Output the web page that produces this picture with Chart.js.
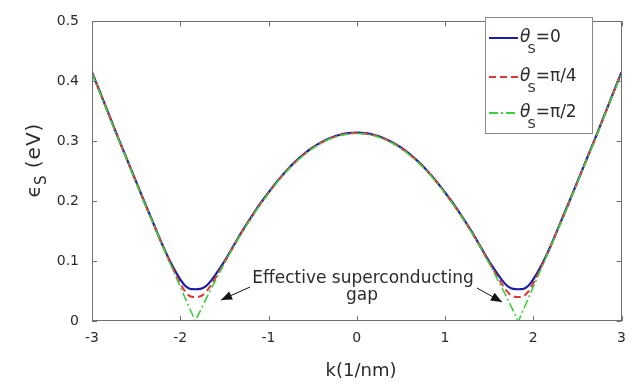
<!DOCTYPE html>
<html><head><meta charset="utf-8">
<script src="https://cdn.jsdelivr.net/npm/chart.js@4/dist/chart.umd.min.js"></script>
<style>html,body{margin:0;padding:0;background:#fff;overflow:hidden}#c{display:block}</style>
</head><body>
<canvas id="c" width="635" height="387"></canvas>
<script>
const kValues = [-3,-2.9,-2.8,-2.7,-2.6,-2.5,-2.4,-2.3,-2.2,-2.1,-2,-1.95,-1.9,-1.86,-1.83,-1.8,-1.75,-1.7,-1.65,-1.6,-1.5,-1.4,-1.3,-1.2,-1.1,-1,-0.9,-0.8,-0.7,-0.6,-0.5,-0.4,-0.3,-0.2,-0.1,
  0,0.1,0.2,0.3,0.4,0.5,0.6,0.7,0.8,0.9,1,1.1,1.2,1.3,1.4,1.5,1.6,1.65,1.7,1.75,1.8,1.83,1.86,1.9,1.95,2,2.1,2.2,2.3,2.4,2.5,2.6,2.7,2.8,2.9,3];
const epsTheta0 = [0.4155,0.3785,0.3415,0.3045,0.2685,0.2325,0.1965,0.1615,0.1265,0.0950,0.0694,0.0597,0.0544,0.0531,0.0530,0.0531,0.0546,0.0593,0.0674,0.0774,0.0995,0.1245,0.1495,0.1725,0.1945,0.2145,0.2335,0.2505,0.2655,0.2785,0.2895,0.2985,0.3055,0.3105,0.3135,
  0.3145,0.3135,0.3105,0.3055,0.2985,0.2895,0.2785,0.2655,0.2505,0.2335,0.2145,0.1945,0.1725,0.1495,0.1245,0.0995,0.0774,0.0674,0.0593,0.0546,0.0531,0.0530,0.0531,0.0544,0.0597,0.0694,0.0950,0.1265,0.1615,0.1965,0.2325,0.2685,0.3045,0.3415,0.3785,0.4155];
const epsThetaPi4 = [0.4148,0.3778,0.3408,0.3038,0.2678,0.2318,0.1958,0.1608,0.1258,0.0928,0.0629,0.0504,0.0424,0.0402,0.0400,0.0402,0.0427,0.0498,0.0605,0.0723,0.0975,0.1238,0.1488,0.1718,0.1938,0.2138,0.2328,0.2498,0.2648,0.2778,0.2888,0.2978,0.3048,0.3098,0.3128,
  0.3138,0.3128,0.3098,0.3048,0.2978,0.2888,0.2778,0.2648,0.2498,0.2328,0.2138,0.1938,0.1718,0.1488,0.1238,0.0975,0.0723,0.0605,0.0498,0.0427,0.0402,0.0400,0.0402,0.0424,0.0504,0.0629,0.0928,0.1258,0.1608,0.1958,0.2318,0.2678,0.3038,0.3408,0.3778,0.4148];
const epsThetaPi2 = [0.414,0.377,0.340,0.303,0.267,0.231,0.195,0.160,0.125,0.091,0.057,0.040,0.023,0.010,0,0.009,0.024,0.039,0.054,0.068,0.096,0.123,0.148,0.171,0.193,0.213,0.232,0.249,0.264,0.277,0.288,0.297,0.304,0.309,0.312,
  0.313,0.312,0.309,0.304,0.297,0.288,0.277,0.264,0.249,0.232,0.213,0.193,0.171,0.148,0.123,0.096,0.068,0.054,0.039,0.024,0.009,0,0.010,0.023,0.040,0.057,0.091,0.125,0.160,0.195,0.231,0.267,0.303,0.340,0.377,0.414];
const xTickLabels = ['-3','-2','-1','0','1','2','3'];
const yTickLabels = ['0','0.1','0.2','0.3','0.4','0.5'];
const legendValues = ['=0','=\u03c0/4','=\u03c0/2'];
const annotationLines = ['Effective superconducting','gap'];
const xTitle = 'k(1/nm)';
const yTitleMain = '\u03f5';
const yTitleSub = 'S';
const yTitleUnit = ' (eV)';

const FONT = "'DejaVu Sans', sans-serif";
const colors = ['#1c1ca8','#e03535','#3ccf3c'];
const dashes = [[], [7,4], [9,3,2,3]];

const pts = ys => kValues.map((k,i)=>({x:k,y:ys[i]}));

function arrow(ctx, x1,y1,x2,y2){
  ctx.beginPath(); ctx.moveTo(x1,y1); ctx.lineTo(x2,y2); ctx.stroke();
  const a = Math.atan2(y2-y1,x2-x1), L=11, W=4.5;
  ctx.beginPath();
  ctx.moveTo(x2,y2);
  ctx.lineTo(x2-L*Math.cos(a)+W*Math.sin(a), y2-L*Math.sin(a)-W*Math.cos(a));
  ctx.lineTo(x2-L*Math.cos(a)-W*Math.sin(a), y2-L*Math.sin(a)+W*Math.cos(a));
  ctx.closePath(); ctx.fill();
}

const overlay = {
  id:'overlay',
  afterDraw(chart){
    const ctx = chart.ctx, ca = chart.chartArea, xs = chart.scales.x, ys = chart.scales.y;
    ctx.save();
    ctx.strokeStyle = '#707070'; ctx.lineWidth = 1; ctx.setLineDash([]);
    ctx.strokeRect(Math.round(ca.left)+0.5, Math.round(ca.top)+0.5, Math.round(ca.right-ca.left)-1, Math.round(ca.bottom-ca.top)-1);
    ctx.beginPath();
    xs.ticks.forEach(t=>{const p=Math.round(xs.getPixelForValue(t.value))+0.5;
      ctx.moveTo(p,ca.bottom); ctx.lineTo(p,ca.bottom-5); ctx.moveTo(p,ca.top); ctx.lineTo(p,ca.top+5);});
    ys.ticks.forEach(t=>{const p=Math.round(ys.getPixelForValue(t.value))+0.5;
      ctx.moveTo(ca.left,p); ctx.lineTo(ca.left+5,p); ctx.moveTo(ca.right,p); ctx.lineTo(ca.right-5,p);});
    ctx.stroke();

    ctx.fillStyle = '#2b2b2b';
    ctx.font = '18px '+FONT; ctx.textAlign='center'; ctx.textBaseline='alphabetic';
    ctx.fillText(xTitle, 361, 376);

    ctx.save();
    ctx.translate(44, 160); ctx.rotate(-Math.PI/2);
    ctx.textAlign='left';
    ctx.font = '20px '+FONT; const wMain = ctx.measureText(yTitleMain).width;
    ctx.font = '15px '+FONT; const wSub = ctx.measureText(yTitleSub).width;
    ctx.font = '20px '+FONT; ctx.letterSpacing='1px'; const wUnit = ctx.measureText(yTitleUnit).width;
    ctx.letterSpacing='0px';
    let x0 = -(wMain+wSub+wUnit)/2;
    ctx.font = '20px '+FONT; ctx.fillText(yTitleMain, x0, -4);
    ctx.font = '15px '+FONT; ctx.fillText(yTitleSub, x0+wMain, 2);
    ctx.font = '20px '+FONT; ctx.letterSpacing='1px'; ctx.fillText(yTitleUnit, x0+wMain+wSub, -4);
    ctx.letterSpacing='0px';
    ctx.restore();

    ctx.font = '17px '+FONT; ctx.textAlign='center'; ctx.fillStyle='#2b2b2b';
    ctx.fillText(annotationLines[0], 363, 283);
    ctx.fillText(annotationLines[1], 362, 300);
    ctx.strokeStyle='#111'; ctx.fillStyle='#111'; ctx.lineWidth=1;
    arrow(ctx, 250, 287, 221, 300);
    arrow(ctx, 477, 288, 502, 302);

    const lx=485, ly=17, lw=107, lh=116;
    ctx.fillStyle='#fff'; ctx.fillRect(lx,ly,lw,lh);
    ctx.strokeStyle='#8a8a8a'; ctx.lineWidth=1; ctx.strokeRect(lx+0.5,ly+0.5,lw,lh);
    const rows=[38,77,113];
    rows.forEach((yy,i)=>{
      ctx.strokeStyle=colors[i]; ctx.lineWidth=2; ctx.setLineDash(dashes[i]);
      ctx.beginPath(); ctx.moveTo(489,yy); ctx.lineTo(518,yy); ctx.stroke();
      ctx.setLineDash([]);
      ctx.fillStyle='#2b2b2b'; ctx.textAlign='left'; ctx.textBaseline='alphabetic';
      ctx.font='italic 17px '+FONT; ctx.fillText('\u03b8', 520, yy+4);
      const wt = ctx.measureText('\u03b8').width;
      ctx.font='13px '+FONT; ctx.fillText('S', 519+wt-2, yy+15);
      const ws = ctx.measureText('S').width;
      ctx.font='17px '+FONT; ctx.fillText(legendValues[i], 519+wt-2+ws, yy+4);
    });
    ctx.restore();
  }
};

new Chart(document.getElementById('c'), {
  type:'line',
  data:{datasets:[
    {label:'\u03b8S=0', data:pts(epsTheta0), borderColor:colors[0], borderWidth:2.2, borderDash:dashes[0], order:3},
    {label:'\u03b8S=\u03c0/4', data:pts(epsThetaPi4), borderColor:colors[1], borderWidth:2, borderDash:dashes[1], order:2},
    {label:'\u03b8S=\u03c0/2', data:pts(epsThetaPi2), borderColor:colors[2], borderWidth:1.6, borderDash:dashes[2], order:1}
  ]},
  options:{
    responsive:false, animation:false, devicePixelRatio:1,
    layout:{padding:{top:14,right:9,left:0,bottom:0}},
    elements:{point:{radius:0}, line:{cubicInterpolationMode:'monotone', fill:false}},
    plugins:{legend:{display:false}, tooltip:{enabled:false}},
    scales:{
      x:{type:'linear', min:-3, max:3,
        grid:{display:false, drawTicks:false}, border:{display:false},
        ticks:{stepSize:1, padding:9, color:'#2b2b2b', font:{family:FONT,size:14},
          callback:(v)=>xTickLabels[Math.round(v)+3]},
        afterFit:(s)=>{s.height=66;}},
      y:{min:0, max:0.5,
        grid:{display:false, drawTicks:false}, border:{display:false},
        ticks:{stepSize:0.1, padding:13, color:'#2b2b2b', font:{family:FONT,size:14},
          callback:(v)=>yTickLabels[Math.round(v*10)]},
        afterFit:(s)=>{s.width=92;}}
    }
  },
  plugins:[overlay]
});
</script>
</body></html>
